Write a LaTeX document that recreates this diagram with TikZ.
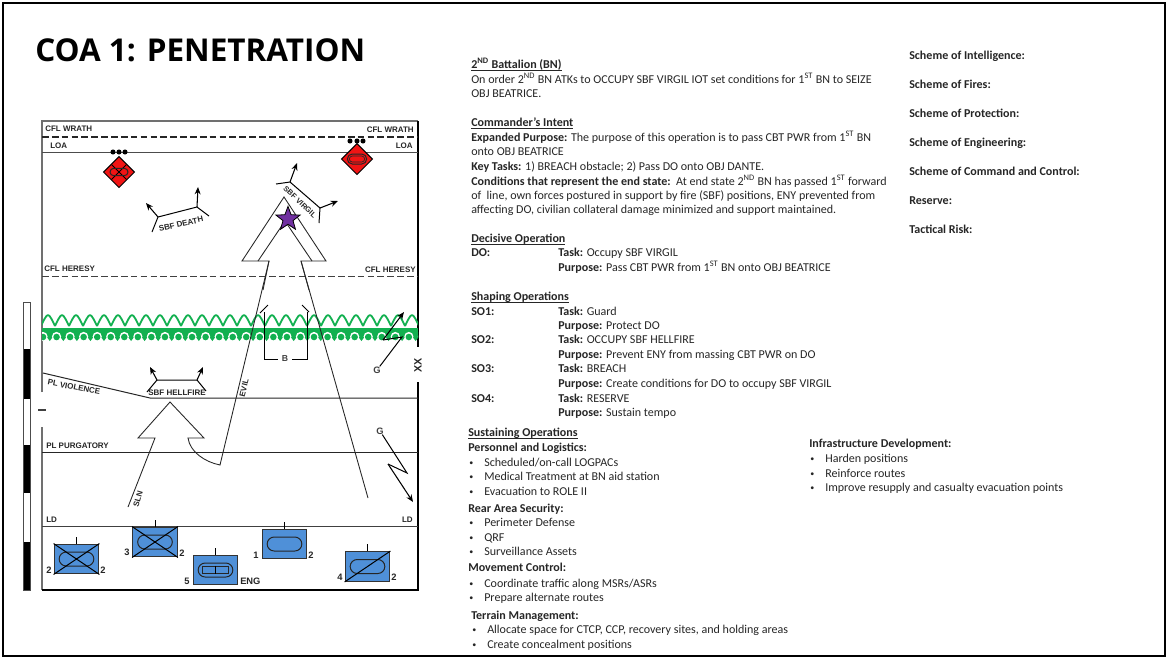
\documentclass[tikz,border=0pt]{standalone}
\usepackage{fontspec}
\setmainfont{Carlito}
\newfontfamily\mapfont{Liberation Sans}
\newfontfamily\titlefont{Open Sans}
\usetikzlibrary{arrows.meta,shapes.geometric,shapes.misc}
\definecolor{unitblue}{HTML}{4F90D8}
\definecolor{hostred}{HTML}{F01414}
\definecolor{obstgreen}{HTML}{12B050}
\definecolor{starpurple}{HTML}{7030A0}
\definecolor{bodyink}{HTML}{262626}
\definecolor{frameink}{HTML}{707070}
\tikzset{
  txt/.style={anchor=base west,inner sep=0pt,font=\fontsize{9.02}{10.5}\selectfont,text=bodyink},
  dotmark/.style={anchor=base west,inner sep=0pt,font=\fontsize{6}{7}\selectfont,text=bodyink},
  lbl/.style={inner sep=0pt,font=\mapfont\bfseries\fontsize{6}{7}\selectfont,text=black!85},
  gl/.style={inner sep=0pt,font=\mapfont\bfseries\fontsize{7}{8}\selectfont,text=black!75},
  num/.style={inner sep=0pt,font=\mapfont\bfseries\fontsize{7}{8}\selectfont,text=black!85},
  mapline/.style={line width=0.75pt,black!85},
  thin line/.style={line width=0.65pt,black!85},
  sym/.style={line width=0.75pt,black},
  tipline/.style={line width=0.8pt,black,-{Stealth[length=5.5pt,width=4.5pt]}},
  unitbox/.style={draw=black!80,fill=unitblue,line width=0.9pt,inner sep=0pt,minimum width=33.5pt,minimum height=22.3pt},
  oval/.style={draw=black!85,rounded rectangle,line width=0.75pt,inner sep=0pt,minimum width=26pt,minimum height=10.5pt},
  hostile/.style={diamond,draw=black,fill=hostred,line width=0.75pt,inner sep=0pt,minimum width=23.5pt,minimum height=23.5pt},
  echelon/.style={circle,fill=black,inner sep=0pt,minimum size=3.8pt},
}
\newcommand{\tx}[4]{\node[txt] (#1) at (#2,#3+4.5) {#4};}
\newcommand{\bul}[5]{\node[dotmark] (#1d) at (#2,#4+3.9) {•};\node[txt] (#1) at (#3,#4+4.5) {#5};}
\newcommand{\hd}[1]{\underline{\smash{\textbf{#1}}}}
\newcommand{\sq}[1]{\textsuperscript{#1}}
\begin{document}
\begin{tikzpicture}[x=0.75pt,y=-0.75pt]
\useasboundingbox (0,0) rectangle (1170,662);
\fill[white] (0,0) rectangle (1170,662);
\draw[line width=1.6pt,black] (3,3) rectangle (1165,656);

\node[anchor=base west,inner sep=0pt,font=\titlefont\bfseries\fontsize{23.6}{26}\selectfont] (title) at (35,61) {COA 1: PENETRATION};

% scale bar
\foreach \a/\b/\c in {302/349/white,349/399/black,399/445/white,445/493/black,493/542/white,542/590/black}
  \fill[\c] (23,\a) rectangle (30,\b);
\draw[line width=0.7pt,black!70] (23,302) rectangle (30,590);

% map frame
\coordinate (tl) at (42,121); \coordinate (tr) at (418,121);
\coordinate (bl) at (42,590); \coordinate (br) at (418,590);
\draw[line width=1pt,frameink] (42,392) -- (tl) -- (tr);
\draw[line width=1pt,frameink] (42,427) -- (bl);
\draw[line width=1.1pt,black] (tr) -- (418,347) (418,382) -- (br) -- (bl);
\draw[line width=1.6pt,black!75] (38,410) -- (46,410);

% control lines
\draw[line width=0.8pt,black!85,dash pattern=on 5pt off 2.4pt] (42,137) -- (418,137);
\draw[mapline,black!70] (42,152) -- (418,152);
\draw[line width=0.7pt,black!75,dash pattern=on 5pt off 2.4pt] (42,276) -- (418,276);
\draw[mapline] (43,373) -- (150,398) -- (418,398);
\draw[mapline] (42,452) -- (418,452);
\draw[mapline,black!75] (42,526) -- (418,526);

% obstacle
\begin{scope}
\clip (42,300) rectangle (418,345);
\foreach \i in {0,...,27} {
  \pgfmathsetmacro{\xa}{41+14*\i}
  \draw[line width=1.35pt,obstgreen,line join=round]
    (\xa,326) .. controls (\xa+2.5,321) and (\xa+5,315) .. (\xa+7,315)
    .. controls (\xa+9,315) and (\xa+11.5,321) .. (\xa+14,326);
}
\fill[obstgreen] (42,328) rectangle (418,333);
\foreach \i in {0,...,28} {
  \pgfmathsetmacro{\xa}{43+13.55*\i}
  \fill[obstgreen] (\xa,332) -- (\xa+13.55,332) -- (\xa+6.78,341) -- cycle;
}
\foreach \i in {0,...,28} {
  \pgfmathsetmacro{\xa}{43+13.55*\i}
  \fill[white] (\xa,336.5) circle (4.6);
  \fill[obstgreen] (\xa,337) circle (3.3);
}
\end{scope}

% map labels
\node[lbl,anchor=west] (cw1) at (45,129) {CFL WRATH};
\node[lbl,anchor=east] (cw2) at (414,130) {CFL WRATH};
\node[lbl,anchor=west] (loa1) at (50,146) {LOA};
\node[lbl,anchor=east] (loa2) at (413,146) {LOA};
\node[lbl,anchor=west] (ch1) at (44,269) {CFL HERESY};
\node[lbl,anchor=east] (ch2) at (416,270) {CFL HERESY};
\node[lbl,rotate=-11] (plv) at (74,387) {PL VIOLENCE};
\node[lbl] (plh) at (177,393) {SBF HELLFIRE};
\node[lbl,anchor=west] (plp) at (46,446) {PL PURGATORY};
\node[lbl,anchor=west] (ld1) at (46,520) {LD};
\node[lbl,anchor=east] (ld2) at (413,520) {LD};
\node[lbl,font=\mapfont\bfseries\fontsize{8}{9}\selectfont,rotate=90] (xx) at (418,365) {XX};

% hostile symbols
\node[hostile] (h1) at (119,172) {};
\draw[sym] (111.5,164.5) -- (126.5,179.5) (126.5,164.5) -- (111.5,179.5);
\node[oval,minimum width=13.5pt,minimum height=5.5pt] (h1o) at (h1) {};
\foreach \x in {113,119,125} \node[echelon] at (\x,152) {};
\node[hostile] (h2) at (357,159) {};
\node[oval,minimum width=14.5pt,minimum height=7.5pt] (h2o) at (h2) {};
\node[oval,minimum width=11.5pt,minimum height=4.5pt,line width=0.5pt] (h2i) at (h2) {};
\foreach \x in {350,357,363} \node[echelon] at (\x,141) {};

% SBF DEATH
\coordinate (da) at (158,217); \coordinate (db) at (197,207);
\draw[sym] (152,232) -- (da) -- (db) -- (209,216);
\draw[tipline] (da) -- (146,203);
\draw[tipline] (db) -- (198,187);
\node[lbl,rotate=13] (sd) at (181,224) {SBF DEATH};

% SBF VIRGIL
\coordinate (va) at (290,182); \coordinate (vb) at (320,208);
\draw[sym] (276,184) -- (va) -- (vb) -- (319,223);
\draw[tipline] (va) -- (297,163);
\draw[tipline] (vb) -- (338,201);
\node[lbl,rotate=-43,font=\mapfont\bfseries\fontsize{5.6}{6.5}\selectfont] (sv) at (300,202) {SBF VIRGIL};

% main arrow
\draw[thin line] (263,290) -- (269,261) -- (242,261) -- (284,197) -- (326,261) -- (301,261) -- (309,290);
\draw[thin line] (258,261) -- (285,221) -- (312,261);
\draw[thin line] (269,261) -- (220,465)
  .. controls (205,462) and (190,452) .. (188,438) -- (204,438) -- (170,402) -- (138,438) -- (155,438) -- (128,507);
\draw[thin line] (301,261) -- (368,498);
\node[star,star points=5,star point ratio=2.4,draw=black,fill=starpurple,line width=0.6pt,inner sep=0pt,minimum size=19pt] (st) at (288,219) {};
\node[lbl,rotate=76] (evil) at (244,388) {EVIL};
\node[lbl,rotate=74] (sln) at (138,499) {SLN};

% SBF HELLFIRE
\coordinate (ha) at (157,380); \coordinate (hb) at (197,380);
\draw[sym] (147,392) -- (ha) -- (hb) -- (206,391);
\draw[tipline] (ha) -- (150,367);
\draw[tipline] (hb) -- (203,367);

% breach bracket
\node[gl,inner sep=2.5pt,font=\mapfont\bfseries\fontsize{6.5}{7}\selectfont] (bb) at (285,359) {B};
\draw[sym] (260,313) -- (268,305);
\draw[sym] (302,305) -- (309,312);
\draw[sym] (264,312) |- (bb.west);
\draw[sym] (307,312) |- (bb.east);

% G arrows
\node[gl] (g1) at (377,370) {G};
\coordinate (g1a) at (402,337); \coordinate (g1b) at (383,340);
\draw[sym] (g1) -- (g1a) -- (g1b);
\draw[tipline] (g1b) -- (404,312);
\node[gl] (g2) at (380,431) {G};
\coordinate (g2a) at (407,473); \coordinate (g2b) at (388,464);
\draw[sym] (g2) -- (g2a) -- (g2b);
\draw[tipline] (g2b) -- (413,502);

% units
\node[unitbox] (u2) at (76.5,559) {};
\draw[sym] (u2.north) -- ++(0,-7);
\node[oval] (u2o) at (u2) {};
\draw[sym] (u2.north west) -- (u2.south east) (u2.north east) -- (u2.south west);
\node[num] (u2l) at (49,570) {2}; \node[num] (u2r) at (103,570) {2};

\node[unitbox] (u3) at (155,542) {};
\draw[sym] (u3.north) -- ++(0,-7);
\node[oval] (u3o) at (u3) {};
\draw[sym] (u3.north west) -- (u3.south east) (u3.north east) -- (u3.south west);
\node[num] (u3l) at (127,552) {3}; \node[num] (u3r) at (182,553) {2};

\node[unitbox] (u5) at (215.5,570) {};
\draw[sym] (u5.north) -- ++(0,-7);
\node[oval] (u5o) at (u5) {};
\node[draw=black!85,line width=0.75pt,inner sep=0pt,minimum width=19pt,minimum height=5.5pt] (u5i) at (u5) {};
\draw[sym] (u5i.north) -- (u5i.south);
\node[num] (u5l) at (187,581) {5};
\node[num,anchor=west] (u5r) at (240,581) {ENG};

\node[unitbox] (u1) at (284.5,544) {};
\draw[sym] (u1.north) -- ++(0,-7);
\node[oval] (u1o) at (u1) {};
\node[num] (u1l) at (256,555) {1}; \node[num] (u1r) at (311,555) {2};

\node[unitbox] (u4) at (367.5,566.5) {};
\draw[sym] (u4.north) -- ++(0,-7);
\node[oval] (u4o) at (u4) {};
\draw[sym] (u4.south west) -- (u4.north east);
\node[num] (u4l) at (340,577) {4}; \node[num] (u4r) at (394,577) {2};

% text
\tx{a1}{471}{64}{\hd{2\sq{ND} Battalion (BN)}}
\tx{a2}{471}{79}{On order 2\sq{ND} BN ATKs to OCCUPY SBF VIRGIL IOT set conditions for 1\sq{ST} BN to SEIZE}
\tx{a3}{471}{93}{OBJ BEATRICE.}
\tx{b1}{471}{122}{\hd{Commander’s Intent}}
\tx{b2}{471}{137}{\textbf{Expanded Purpose:} The purpose of this operation is to pass CBT PWR from 1\sq{ST} BN}
\tx{b3}{471}{151}{onto OBJ BEATRICE}
\tx{b4}{471}{166}{\textbf{Key Tasks:} 1) BREACH obstacle; 2) Pass DO onto OBJ DANTE.}
\tx{b5}{471}{181}{\textbf{Conditions that represent the end state:}\ \ At end state 2\sq{ND} BN has passed 1\sq{ST} forward}
\tx{b6}{471}{195}{of\ \ line, own forces postured in support by fire (SBF) positions, ENY prevented from}
\tx{b7}{471}{209}{affecting DO, civilian collateral damage minimized and support maintained.}
\tx{c1}{471}{238}{\hd{Decisive Operation}}
\tx{c2}{471}{252}{\textbf{DO:}}
\tx{c3}{558}{252}{\textbf{Task:} Occupy SBF VIRGIL}
\tx{c4}{558}{267}{\textbf{Purpose:} Pass CBT PWR from 1\sq{ST} BN onto OBJ BEATRICE}
\tx{d1}{471}{296}{\hd{Shaping Operations}}
\tx{d2}{471}{311}{\textbf{SO1:}}
\tx{d3}{558}{311}{\textbf{Task:} Guard}
\tx{d4}{558}{325}{\textbf{Purpose:} Protect DO}
\tx{d5}{471}{339}{\textbf{SO2:}}
\tx{d6}{558}{339}{\textbf{Task:} OCCUPY SBF HELLFIRE}
\tx{d7}{558}{354}{\textbf{Purpose:} Prevent ENY from massing CBT PWR on DO}
\tx{d8}{471}{368}{\textbf{SO3:}}
\tx{d9}{558}{368}{\textbf{Task:} BREACH}
\tx{d10}{558}{383}{\textbf{Purpose:} Create conditions for DO to occupy SBF VIRGIL}
\tx{d11}{471}{398}{\textbf{SO4:}}
\tx{d12}{558}{398}{\textbf{Task:} RESERVE}
\tx{d13}{558}{412}{\textbf{Purpose:} Sustain tempo}
\tx{e1}{468}{432}{\hd{Sustaining Operations}}
\tx{e2}{468}{447}{\textbf{Personnel and Logistics:}}
\bul{e3}{469}{484}{462}{Scheduled/on-call LOGPACs}
\bul{e4}{469}{484}{476}{Medical Treatment at BN aid station}
\bul{e5}{469}{484}{491}{Evacuation to ROLE II}
\tx{f1}{468}{508}{\textbf{Rear Area Security:}}
\bul{f2}{469}{484}{522}{Perimeter Defense}
\bul{f3}{469}{484}{537}{QRF}
\bul{f4}{469}{484}{551}{Surveillance Assets}
\tx{g1t}{468}{567}{\textbf{Movement Control:}}
\bul{g2t}{469}{484}{583}{Coordinate traffic along MSRs/ASRs}
\bul{g3t}{469}{484}{597}{Prepare alternate routes}
\tx{h1t}{471}{615}{\textbf{Terrain Management:}}
\bul{h2t}{472}{487}{629}{Allocate space for CTCP, CCP, recovery sites, and holding areas}
\bul{h3t}{472}{487}{644}{Create concealment positions}
\tx{i1}{809}{443}{\textbf{Infrastructure Development:}}
\bul{i2}{810}{825}{458}{Harden positions}
\bul{i3}{810}{825}{473}{Reinforce routes}
\bul{i4}{810}{825}{487}{Improve resupply and casualty evacuation points}
\tx{j1}{909}{55}{\textbf{Scheme of Intelligence:}}
\tx{j2}{909}{84}{\textbf{Scheme of Fires:}}
\tx{j3}{909}{113}{\textbf{Scheme of Protection:}}
\tx{j4}{909}{142}{\textbf{Scheme of Engineering:}}
\tx{j5}{909}{171}{\textbf{Scheme of Command and Control:}}
\tx{j6}{909}{200}{\textbf{Reserve:}}
\tx{j7}{909}{229}{\textbf{Tactical Risk:}}
\end{tikzpicture}
\end{document}
